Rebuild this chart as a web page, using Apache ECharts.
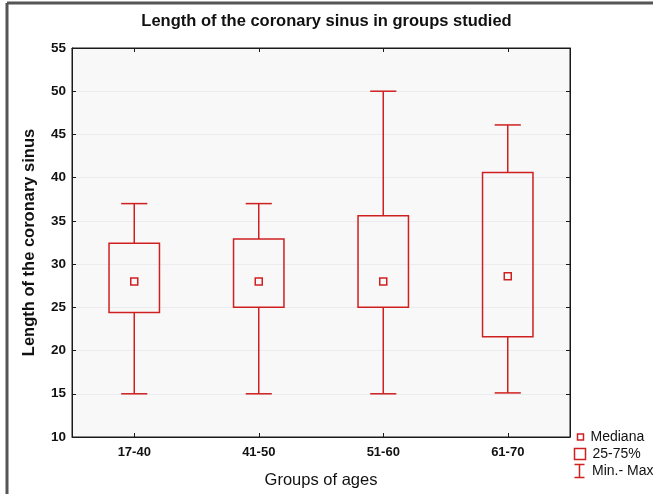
<!DOCTYPE html>
<html>
<head>
<meta charset="utf-8">
<script src="https://cdn.jsdelivr.net/npm/echarts@6/dist/echarts.min.js"></script>
<style>
html,body{margin:0;padding:0;background:#fff;}
#chart{width:653px;height:494px;}
</style>
</head>
<body>
<div id="chart"></div>
<script>
const categories = ['17-40', '41-50', '51-60', '61-70'];
const minVals = [15, 15, 15, 15.1];
const q1Vals = [24.4, 25, 25, 21.6];
const medianVals = [28, 28, 28, 28.6];
const q3Vals = [32.4, 32.9, 35.6, 40.6];
const maxVals = [37, 37, 50, 46.1];
const yTicks = [10, 15, 20, 25, 30, 35, 40, 45, 50, 55];

const RED = '#cf2020';
const AXIS = '#1a1a1a';
const FONT = 'Liberation Sans, Arial, sans-serif';

const whiskerData = categories.map((c, i) => [i, minVals[i], q1Vals[i], q3Vals[i], maxVals[i]]);
const boxData = categories.map((c, i) => [i, q1Vals[i], q3Vals[i]]);
const medianData = categories.map((c, i) => [i, medianVals[i]]);

function renderWhisker(params, api) {
  const i = api.value(0);
  const pMin = api.coord([i, api.value(1)]);
  const pQ1 = api.coord([i, api.value(2)]);
  const pQ3 = api.coord([i, api.value(3)]);
  const pMax = api.coord([i, api.value(4)]);
  const half = api.size([1, 0])[0] * 0.105;
  const style = { stroke: RED, lineWidth: 1.5, fill: null };
  return {
    type: 'group',
    children: [
      { type: 'line', shape: { x1: pMin[0], y1: pMin[1], x2: pQ1[0], y2: pQ1[1] }, style: style },
      { type: 'line', shape: { x1: pQ3[0], y1: pQ3[1], x2: pMax[0], y2: pMax[1] }, style: style },
      { type: 'line', shape: { x1: pMin[0] - half, y1: pMin[1], x2: pMin[0] + half, y2: pMin[1] }, style: style },
      { type: 'line', shape: { x1: pMax[0] - half, y1: pMax[1], x2: pMax[0] + half, y2: pMax[1] }, style: style }
    ]
  };
}

function renderBox(params, api) {
  const i = api.value(0);
  const pQ1 = api.coord([i, api.value(1)]);
  const pQ3 = api.coord([i, api.value(2)]);
  const w = api.size([1, 0])[0] * 0.405;
  return {
    type: 'rect',
    shape: { x: pQ1[0] - w / 2, y: pQ3[1], width: w, height: pQ1[1] - pQ3[1] },
    style: { stroke: RED, lineWidth: 1.5, fill: null }
  };
}

function renderMedian(params, api) {
  const i = api.value(0);
  const p = api.coord([i, api.value(1)]);
  const s = 7;
  return {
    type: 'rect',
    shape: { x: p[0] - s / 2, y: p[1] - s / 2, width: s, height: s },
    style: { stroke: RED, lineWidth: 1.5, fill: null }
  };
}

const chart = echarts.init(document.getElementById('chart'), null, { renderer: 'canvas' });

const legendBase = {
  orient: 'vertical',
  padding: 0,
  itemGap: 0,
  selectedMode: false,
  itemStyle: { color: 'none', borderColor: RED, borderWidth: 1.5 },
  textStyle: { fontFamily: FONT, fontSize: 14, color: '#111', rich: { g: { width: 2 } } }
};

chart.setOption({
  animation: false,
  backgroundColor: '#ffffff',
  title: {
    text: 'Length of the coronary sinus in groups studied',
    left: 'center',
    top: 13,
    padding: 0,
    textStyle: { fontFamily: FONT, fontSize: 16.5, fontWeight: 'bold', color: '#111' }
  },
  legend: [
    Object.assign({}, legendBase, {
      data: [{ name: 'Mediana', icon: 'rect' }],
      left: 575, top: 430, itemWidth: 6, itemHeight: 6,
      formatter: '{g|}Mediana'
    }),
    Object.assign({}, legendBase, {
      data: [{ name: '25-75%', icon: 'rect' }],
      left: 572, top: 446, itemWidth: 11, itemHeight: 11,
      formatter: '{g|}25-75%'
    }),
    Object.assign({}, legendBase, {
      data: [{ name: 'Min.- Max', icon: 'path://M0,0 L10,0 M5,0 L5,13 M0,13 L10,13' }],
      left: 572, top: 462, itemWidth: 11, itemHeight: 13,
      formatter: '{g|}Min.- Max'
    })
  ],
  grid: {
    left: 72, right: 83, top: 48, bottom: 56.5,
    show: true,
    backgroundColor: '#f8f8f9',
    borderColor: AXIS,
    borderWidth: 1
  },
  xAxis: [
    {
      type: 'category',
      data: categories,
      position: 'bottom',
      boundaryGap: true,
      axisLine: { show: true, lineStyle: { color: AXIS, width: 1 } },
      axisTick: { show: true, inside: true, length: 4, alignWithLabel: true, lineStyle: { color: AXIS } },
      axisLabel: { fontFamily: FONT, fontSize: 13, fontWeight: 'bold', color: '#111', margin: 9 },
      splitLine: { show: false },
      name: 'Groups of ages',
      nameLocation: 'middle',
      nameGap: 35,
      nameTextStyle: { fontFamily: FONT, fontSize: 16.5, color: '#111' }
    },
    {
      type: 'category',
      data: categories,
      position: 'top',
      boundaryGap: true,
      axisLine: { show: true, lineStyle: { color: AXIS, width: 1 } },
      axisTick: { show: true, inside: true, length: 4, alignWithLabel: true, lineStyle: { color: AXIS } },
      axisLabel: { show: false },
      splitLine: { show: false }
    }
  ],
  yAxis: [
    {
      type: 'value',
      min: yTicks[0],
      max: yTicks[yTicks.length - 1],
      interval: 5,
      position: 'left',
      axisLine: { show: true, lineStyle: { color: AXIS, width: 1 } },
      axisTick: { show: true, inside: true, length: 4, lineStyle: { color: AXIS } },
      axisLabel: { fontFamily: FONT, fontSize: 13.5, fontWeight: 'bold', color: '#111', margin: 6 },
      splitLine: { show: true, lineStyle: { color: '#ebebf0', width: 1 } },
      name: 'Length of the coronary sinus',
      nameLocation: 'middle',
      nameGap: 34,
      nameTextStyle: { fontFamily: FONT, fontSize: 16.5, fontWeight: 'bold', color: '#111' }
    },
    {
      type: 'value',
      min: yTicks[0],
      max: yTicks[yTicks.length - 1],
      interval: 5,
      position: 'right',
      axisLine: { show: true, lineStyle: { color: AXIS, width: 1 } },
      axisTick: { show: true, inside: true, length: 4, lineStyle: { color: AXIS } },
      axisLabel: { show: false },
      splitLine: { show: false }
    }
  ],
  graphic: [
    { type: 'line', shape: { x1: 7, y1: 3, x2: 653, y2: 3 }, style: { stroke: '#555', lineWidth: 3 }, z: 100 },
    { type: 'line', shape: { x1: 7, y1: 3, x2: 7, y2: 494 }, style: { stroke: '#555', lineWidth: 3 }, z: 100 }
  ],
  series: [
    {
      name: 'Min.- Max',
      type: 'custom',
      xAxisIndex: 0, yAxisIndex: 0,
      renderItem: renderWhisker,
      encode: { x: 0, y: [1, 2, 3, 4] },
      data: whiskerData,
      itemStyle: { color: RED }
    },
    {
      name: '25-75%',
      type: 'custom',
      xAxisIndex: 0, yAxisIndex: 0,
      renderItem: renderBox,
      encode: { x: 0, y: [1, 2] },
      data: boxData,
      itemStyle: { color: RED }
    },
    {
      name: 'Mediana',
      type: 'custom',
      xAxisIndex: 0, yAxisIndex: 0,
      renderItem: renderMedian,
      encode: { x: 0, y: 1 },
      data: medianData,
      itemStyle: { color: RED }
    }
  ]
});
</script>
</body>
</html>
